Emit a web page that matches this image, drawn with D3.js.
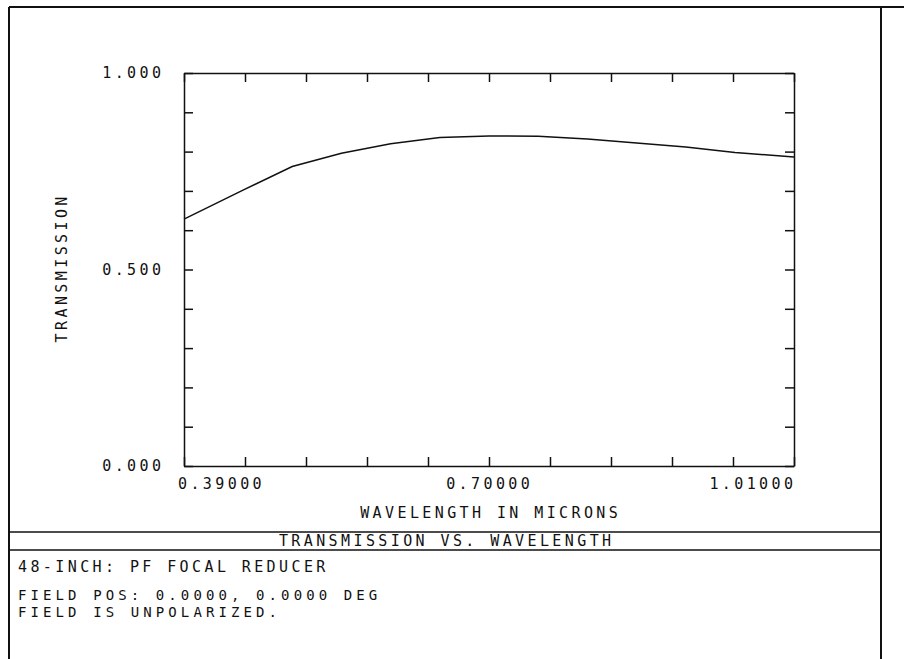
<!DOCTYPE html>
<html>
<head>
<meta charset="utf-8">
<script src="https://cdn.jsdelivr.net/npm/d3@7"></script>
<style>
  body { margin: 0; background: #fff; }
  text { font-family: "DejaVu Sans Mono", monospace; font-size: 15px; letter-spacing: 3.4px; fill: #111; }
  text.small { font-size: 14px; letter-spacing: 4.1px; }
</style>
</head>
<body>
<svg id="chart" width="904" height="659"></svg>
<script>

// wavelength samples (microns) and transmission
let wavelengths = [0.39, 0.45, 0.50, 0.55, 0.60, 0.65, 0.70, 0.75, 0.80, 0.85, 0.90, 0.95, 1.01];
let transmission = [0.628, 0.702, 0.762, 0.796, 0.820, 0.836, 0.840, 0.839, 0.832, 0.822, 0.812, 0.798, 0.786];

let xTickLabels = ["0.39000", "0.70000", "1.01000"];
let yTickLabels = ["0.000", "0.500", "1.000"];
let infoLines = ["FIELD POS: 0.0000, 0.0000 DEG", "FIELD IS UNPOLARIZED."];

let svg = d3.select("#chart");
let ink = "#111";
let ls = 3.4;

let plotLeft = 184, plotRight = 794, plotTop = 73, plotBottom = 466;

let x = d3.scaleLinear()
          .domain([0.39, 1.01])
          .range([plotLeft, plotRight]);

let y = d3.scaleLinear()
          .domain([0, 1])
          .range([plotBottom, plotTop]);

let xTicks = d3.range(11).map((i)=> 0.39 + i*0.062);
let yTicks = d3.range(11).map((i)=> i/10);

// outer frame
svg.append("line").attr("x1", 9).attr("y1", 7).attr("x2", 904).attr("y2", 7)
   .attr("stroke", ink).attr("stroke-width", 2);
svg.append("line").attr("x1", 9).attr("y1", 7).attr("x2", 9).attr("y2", 659)
   .attr("stroke", ink).attr("stroke-width", 2);
svg.append("line").attr("x1", 881).attr("y1", 7).attr("x2", 881).attr("y2", 659)
   .attr("stroke", ink).attr("stroke-width", 2);

// title band
[532, 550].forEach((yy)=>{
  svg.append("line").attr("x1", 9).attr("y1", yy).attr("x2", 881).attr("y2", yy)
     .attr("stroke", ink).attr("stroke-width", 1.5);
});

// axes, all ticks pointing inward
function styleAxis(g){
  g.selectAll("path").attr("stroke", ink).attr("stroke-width", 1.5);
  g.selectAll("line").attr("stroke", ink).attr("stroke-width", 1.5);
  g.selectAll("text").remove();
}

svg.append("g")
   .attr("transform", `translate(0,${plotBottom})`)
   .call(d3.axisBottom(x).tickValues(xTicks).tickSizeInner(-9).tickSizeOuter(0))
   .call(styleAxis);
svg.append("g")
   .attr("transform", `translate(0,${plotTop})`)
   .call(d3.axisTop(x).tickValues(xTicks).tickSizeInner(-9).tickSizeOuter(0))
   .call(styleAxis);
svg.append("g")
   .attr("transform", `translate(${plotLeft},0)`)
   .call(d3.axisLeft(y).tickValues(yTicks).tickSizeInner(-9).tickSizeOuter(0))
   .call(styleAxis);
svg.append("g")
   .attr("transform", `translate(${plotRight},0)`)
   .call(d3.axisRight(y).tickValues(yTicks).tickSizeInner(-9).tickSizeOuter(0))
   .call(styleAxis);

// curve
let pts = wavelengths.map((w,i)=> [w, transmission[i]]);
svg.append("path")
   .datum(pts)
   .attr("fill", "none")
   .attr("stroke", ink)
   .attr("stroke-width", 1.5)
   .attr("d", d3.line().x((d)=> x(d[0])).y((d)=> y(d[1])));

// y tick labels
svg.selectAll(".ylab")
   .data(yTickLabels)
   .enter()
   .append("text")
   .attr("text-anchor", "end")
   .attr("x", 161 + ls)
   .attr("y", (d)=> y(+d) + 5)
   .text((d)=> d);

// x tick labels: first left, middle centred, last right
svg.selectAll(".xlab")
   .data(xTickLabels)
   .enter()
   .append("text")
   .attr("text-anchor", (d,i)=> ["start", "middle", "end"][i])
   .attr("x", (d,i)=> {
     if (i == 0) return x(+d) - 6;
     if (i == 1) return x(+d) + ls/2 - 1;
     return x(+d) - 1 + ls;
   })
   .attr("y", 489)
   .text((d)=> d);

svg.append("text")
   .attr("text-anchor", "middle")
   .attr("x", (plotLeft + plotRight)/2 + ls/2)
   .attr("y", 518)
   .text("WAVELENGTH IN MICRONS");

svg.append("text")
   .attr("text-anchor", "middle")
   .attr("transform", `translate(67,${(plotTop + plotBottom)/2}) rotate(-90)`)
   .attr("x", ls/2)
   .text("TRANSMISSION");

svg.append("text")
   .attr("text-anchor", "middle")
   .attr("x", 445 + ls/2)
   .attr("y", 546)
   .text("TRANSMISSION VS. WAVELENGTH");

svg.append("text")
   .attr("x", 18)
   .attr("y", 572)
   .text("48-INCH: PF FOCAL REDUCER");

svg.selectAll(".info")
   .data(infoLines)
   .enter()
   .append("text")
   .attr("class", "small")
   .attr("x", 18)
   .attr("y", (d,i)=> 600 + i*17)
   .text((d)=> d);

</script>
</body>
</html>
